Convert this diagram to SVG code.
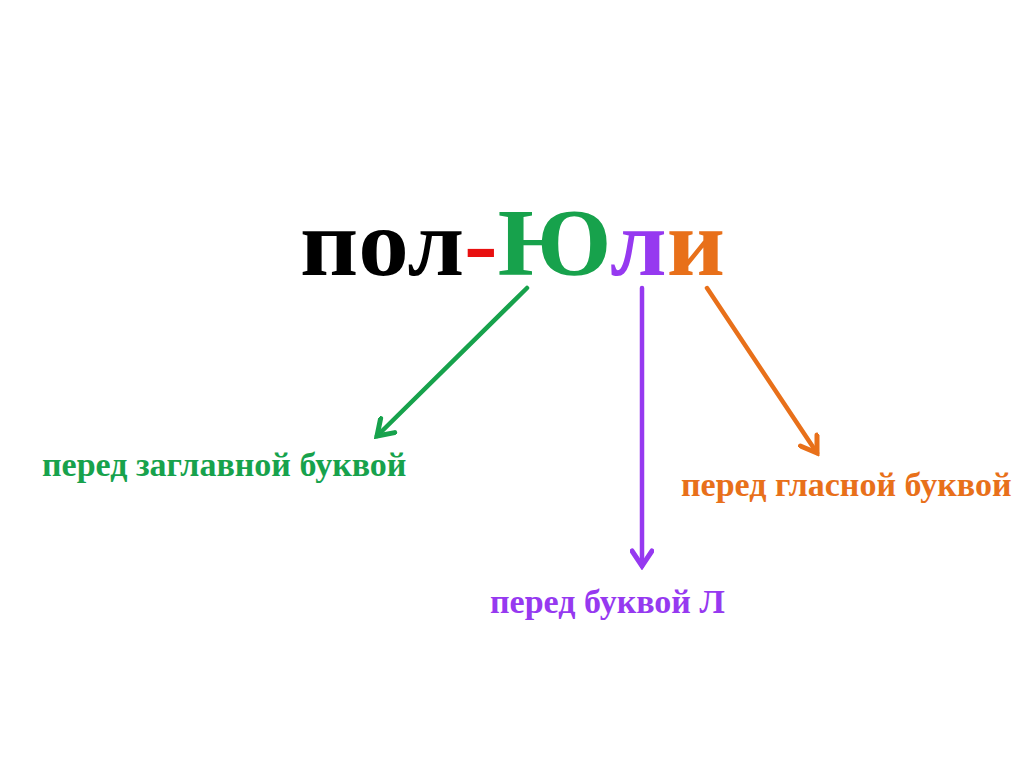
<svg xmlns="http://www.w3.org/2000/svg" width="1024" height="767" viewBox="0 0 1024 767">
<style>
.t{font-family:"Liberation Serif","Times New Roman",serif;font-weight:bold}
.lbl{font-size:34px}
.ln{fill:none;stroke-width:4.5;stroke-linecap:round}
</style>
<defs>
<marker id="mg" markerUnits="userSpaceOnUse" viewBox="-20 -12 24 24" markerWidth="24" markerHeight="24" refX="0" refY="0" orient="auto">
<path d="M-15,-10 L0,0 L-15,10" fill="none" stroke="#17a24c" stroke-width="5" stroke-linecap="round"/>
</marker>
<marker id="mp" markerUnits="userSpaceOnUse" viewBox="-20 -12 24 24" markerWidth="24" markerHeight="24" refX="0" refY="0" orient="auto">
<path d="M-15,-10 L0,0 L-15,10" fill="none" stroke="#9639f0" stroke-width="5" stroke-linecap="round"/>
</marker>
<marker id="mo" markerUnits="userSpaceOnUse" viewBox="-20 -12 24 24" markerWidth="24" markerHeight="24" refX="0" refY="0" orient="auto">
<path d="M-15,-10 L0,0 L-15,10" fill="none" stroke="#e8701a" stroke-width="5" stroke-linecap="round"/>
</marker>
</defs>
<rect width="1024" height="767" fill="#ffffff"/>
<g id="word">
<text class="t" x="300" y="275" font-size="96" textLength="425" lengthAdjust="spacingAndGlyphs"><tspan fill="#000000">пол</tspan><tspan fill="#e81010">-</tspan><tspan fill="#17a24c">Ю</tspan><tspan fill="#9639f0">л</tspan><tspan fill="#e8701a">и</tspan></text>
</g>
<g id="connectors">
<line class="ln" x1="527" y1="288" x2="377" y2="436" stroke="#17a24c" marker-end="url(#mg)"/>
<line class="ln" x1="642" y1="288" x2="642" y2="566" stroke="#9639f0" marker-end="url(#mp)"/>
<line class="ln" x1="707" y1="288" x2="817" y2="453" stroke="#e8701a" marker-end="url(#mo)"/>
</g>
<g id="label-capital">
<text class="t lbl" x="42" y="476" fill="#17a24c">перед заглавной буквой</text>
</g>
<g id="label-vowel">
<text class="t lbl" x="681" y="496" fill="#e8701a">перед гласной буквой</text>
</g>
<g id="label-l">
<text class="t lbl" x="490" y="613" fill="#9639f0">перед буквой Л</text>
</g>
</svg>
